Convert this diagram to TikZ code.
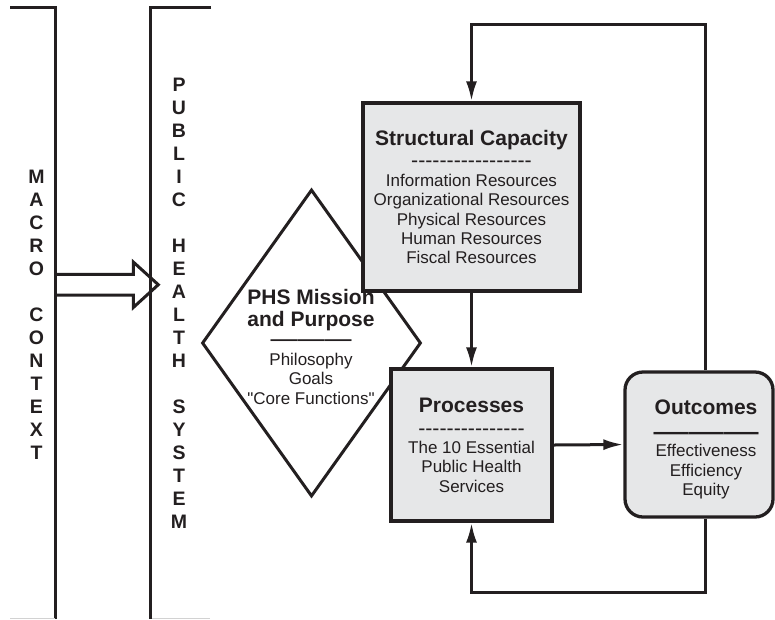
\documentclass[tikz,border=0pt]{standalone}
\usepackage{fontspec}
\setmainfont{Liberation Sans}[Ligatures=TeXOff]
\usetikzlibrary{shapes.geometric, arrows.meta}

\definecolor{ink}{RGB}{35,31,32}
\definecolor{boxgray}{RGB}{230,231,232}

\newcommand{\headtxt}{\fontsize{21}{19.3}\selectfont\bfseries}
\newcommand{\bodytxt}{\fontsize{17}{19.3}\selectfont}
\newcommand{\dashtxt}{\fontsize{21.3}{19.3}\selectfont}
\newcommand{\dashes}[1]{\foreach \k in {1,...,#1}{-}}

\begin{document}
\begin{tikzpicture}[x=1pt, y=-1pt,
    every node/.style={inner sep=0pt, text=ink, font=\bodytxt},
    rail/.style={draw=ink, line width=3pt},
    box/.style={draw=ink, line width=3.3pt, fill=boxgray, align=center},
    flow/.style={draw=ink, line width=3pt, -{Latex[length=20pt, width=11pt]}},
    letters/.style={anchor=north, align=center, font=\fontsize{19.5}{23}\selectfont\bfseries}
    ]

    \useasboundingbox (0,0) rectangle (775,619);

    % Context brackets
    \draw[rail] (10,7.5) -- (55.5,7.5) -- (55.5,619);
    \draw[rail] (211,7.5) -- (150.3,7.5) -- (150.3,619);
    \draw[gray!35, line width=0.8pt] (10,618.2) -- (55,618.2) (152,618.2) -- (210,618.2);

    % Vertical labels
    \node[letters] (macro) at (36.5,170.2) {M\\A\\C\\R\\O\\[23pt]C\\O\\N\\T\\E\\X\\T};
    \node[letters] (system) at (179,78.2) {P\\U\\B\\L\\I\\C\\[23pt]H\\E\\A\\L\\T\\H\\[23pt]S\\Y\\S\\T\\E\\M};

    % Hollow arrow into the system
    \draw[rail] (55.5,274.3) -- (133.3,274.3) -- (133.3,262) -- (158.3,284.7)
        -- (133.3,307.5) -- (133.3,295) -- (55.5,295);

    % Mission diamond
    \node[diamond, draw=ink, line width=3pt, minimum width=219pt, minimum height=307pt] (mission) at (311.5,343) {};
    \node[anchor=north, align=center] (missiontxt) at (311,289)
        {\headtxt PHS Mission\\[2.7pt]\headtxt and Purpose\\[1.7pt]\fontsize{27}{19.3}\selectfont ———\\[-1.3pt]\bodytxt Philosophy\\Goals\\"Core Functions"};

    % Boxes
    \node[box, minimum width=217pt, minimum height=188pt] (cap) at (471.5,197)
        {\headtxt Structural Capacity\\[3pt]\dashtxt\dashes{17}\\[-0.6pt]\bodytxt Information Resources\\Organizational Resources\\Physical Resources\\Human Resources\\Fiscal Resources};
    \node[box, minimum width=161pt, minimum height=152pt] (proc) at (471.5,445)
        {\headtxt Processes\\[3.6pt]\dashtxt\dashes{15}\\[-0.8pt]\bodytxt The 10 Essential\\Public Health\\Services};
    \node[box, rounded corners=18pt, minimum width=148pt, minimum height=145pt] (out) at (699,444.5) {};
    \node[anchor=north, align=center] (outtxt) at (706,400)
        {\headtxt Outcomes\\[8.7pt]\fontsize{35}{19.3}\selectfont ———\\[-5.3pt]\bodytxt Effectiveness\\Efficiency\\Equity};

    % Connectors
    \coordinate (topturn) at (705,24.3);
    \coordinate (botturn) at (705,592);
    \draw[flow] (cap.south) -- (proc.north);
    \draw[flow] (proc.east) -- (out.west);
    \draw[flow] (out.north -| topturn) -- (topturn) -| (cap.north);
    \draw[flow] (out.south -| botturn) -- (botturn) -| (proc.south);
\end{tikzpicture}
\end{document}
